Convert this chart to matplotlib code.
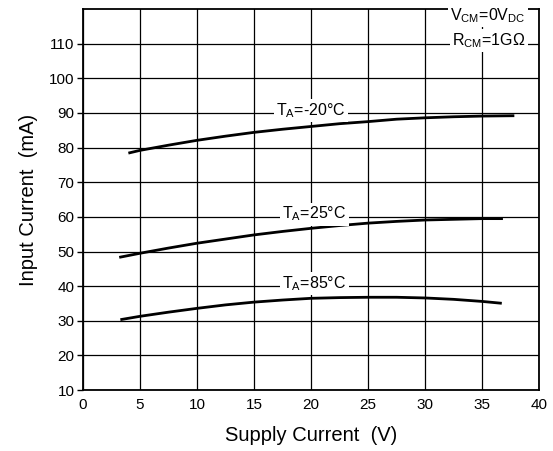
import numpy as np
import matplotlib.pyplot as plt

plt.rcParams['font.family'] = ['Liberation Sans', 'DejaVu Sans']
plt.rcParams['mathtext.default'] = 'regular'

x_m20 = [4.1, 5, 7.5, 10, 12.5, 15, 17.5, 20, 22.5, 25, 27.5, 30, 32.5, 35, 37.7]
y_m20 = [78.5, 79.2, 80.7, 82.1, 83.3, 84.4, 85.3, 86.1, 86.9, 87.5, 88.2, 88.6, 88.9, 89.1, 89.2]

x_25 = [3.3, 5, 7.5, 10, 12.5, 15, 17.5, 20, 22.5, 25, 27.5, 30, 32.5, 35, 36.7]
y_25 = [48.4, 49.5, 51.0, 52.4, 53.6, 54.8, 55.8, 56.7, 57.5, 58.2, 58.7, 59.1, 59.3, 59.5, 59.5]

x_85 = [3.4, 5, 7.5, 10, 12.5, 15, 17.5, 20, 22.5, 25, 27.5, 30, 32.5, 35, 36.6]
y_85 = [30.4, 31.3, 32.5, 33.6, 34.6, 35.4, 36.0, 36.5, 36.7, 36.8, 36.8, 36.6, 36.2, 35.6, 35.1]

curve_labels = ['T$_A$=-20°C', 'T$_A$=25°C', 'T$_A$=85°C']
label_pos = [(20, 90.6), (20.3, 60.8), (20.3, 40.8)]

xticks = np.arange(0, 41, 5)
yticks = np.arange(10, 111, 10)

fig = plt.figure(figsize=(5.53, 4.51), dpi=100)
ax = fig.add_axes([0.150, 0.135, 0.825, 0.845])

for xs, ys in [(x_m20, y_m20), (x_25, y_25), (x_85, y_85)]:
    ax.plot(xs, ys, color='black', lw=2.0, zorder=3)

for txt, (lx, ly) in zip(curve_labels, label_pos):
    ax.text(lx, ly, txt, ha='center', va='center', fontsize=11.5, zorder=4,
            bbox=dict(facecolor='white', edgecolor='none', pad=1.5))

ax.text(38.8, 118.0, 'V$_{CM}$=0V$_{DC}$', ha='right', va='center', fontsize=11.5,
        zorder=4, bbox=dict(facecolor='white', edgecolor='none', pad=1.5))
ax.text(38.8, 111.0, 'R$_{CM}$=1GΩ', ha='right', va='center', fontsize=11.5,
        zorder=4, bbox=dict(facecolor='white', edgecolor='none', pad=1.5))

ax.set_xlim(0, 40)
ax.set_ylim(10, 120)
ax.set_xticks(xticks)
ax.set_yticks(yticks)
ax.grid(True, color='black', lw=0.9)
ax.set_axisbelow(True)

ax.tick_params(axis='x', length=0, pad=6, labelsize=11)
ax.tick_params(axis='y', length=4, width=1, pad=2, labelsize=11)

for s in ax.spines.values():
    s.set_linewidth(1.3)

ax.set_xlabel('Supply Current  (V)', fontsize=14.5, labelpad=10)
ax.set_ylabel('Input Current  (mA)', fontsize=14.5, labelpad=8)

fig.savefig('out.png', dpi=100)
